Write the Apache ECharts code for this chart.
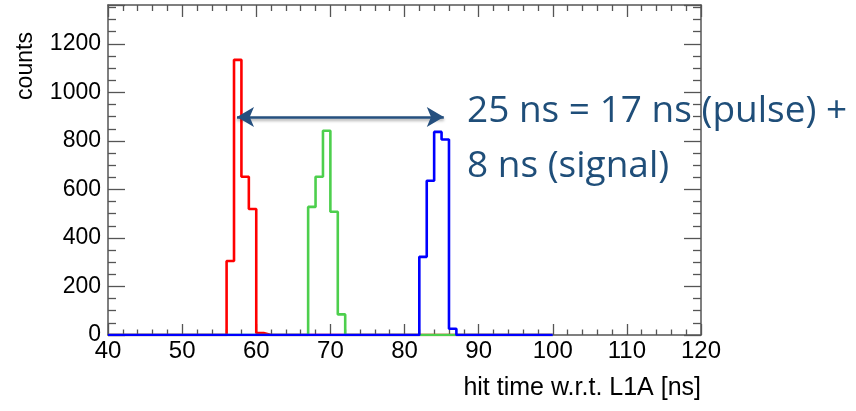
<!DOCTYPE html>
<html>
<head>
<meta charset="utf-8">
<script src="https://cdn.jsdelivr.net/npm/echarts@6/dist/echarts.min.js"></script>
<style>html,body{margin:0;padding:0;background:#fff;}#c{width:856px;height:411px;}</style>
</head>
<body>
<div id="c"></div>
<script>
// Histogram bins: 1 ns wide, lower edges 40..99
const binStart = 40;
const binEnd = 100;
const redCounts = [
  0,0,0,0,0,0,0,0,0,0,   // 40-49
  0,0,0,0,0,0,305,1134,652,519, // 50-59
  8,0,0,0,0,0,0,0,0,0,   // 60-69
  0,0,0,0,0,0,0,0,0,0,   // 70-79
  0,0,0,0,0,0,0,0,0,0,   // 80-89
  0,0,0,0,0,0,0,0,0,0    // 90-99
];
const greenCounts = [
  0,0,0,0,0,0,0,0,0,0,
  0,0,0,0,0,0,0,0,0,0,
  0,0,0,0,0,0,0,528,652,842,
  508,85,0,0,0,0,0,0,0,0,
  0,0,0,0,0,0,0,0,0,0,
  0,0,0,0,0,0,0,0,0,0
];
const blueCounts = [
  0,0,0,0,0,0,0,0,0,0,
  0,0,0,0,0,0,0,0,0,0,
  0,0,0,0,0,0,0,0,0,0,
  0,0,0,0,0,0,0,0,0,0,
  0,0,322,636,837,806,26,0,0,0,
  0,0,0,0,0,0,0,0,0,0
];
const xTicks = [40,50,60,70,80,90,100,110,120];
const yTicks = [0,200,400,600,800,1000,1200];
const arrowFrom = [57.4, 898];
const arrowTo = [85.3, 898];
const annotLine1 = '25 ns = 17 ns (pulse) +';
const annotLine2 = '8 ns (signal)';
const xTitle = 'hit time w.r.t. L1A [ns]';
const yTitle = 'counts';

function histPoints(counts){
  const pts = [];
  for (let i = 0; i < counts.length; i++) pts.push([binStart + i, counts[i]]);
  pts.push([binEnd, 0]);
  return pts;
}

const chart = echarts.init(document.getElementById('c'));
const frameColor = '#555';
const baseX = {
  type: 'value', min: xTicks[0], max: xTicks[xTicks.length-1], interval: 10,
  axisLine: {show: true, onZero: false, lineStyle: {color: frameColor, width: 1.5}},
  splitLine: {show: false},
  axisTick: {show: true, inside: true, length: 11, lineStyle: {color: frameColor, width: 1.3}},
  minorTick: {show: true, splitNumber: 5, length: 5.5, lineStyle: {color: frameColor, width: 1.3}},
};
const baseY = {
  type: 'value', min: 0, max: 1360, interval: 200,
  axisLine: {show: true, onZero: false, lineStyle: {color: frameColor, width: 1.5}},
  splitLine: {show: false},
  axisTick: {show: true, inside: true, length: 17, lineStyle: {color: frameColor, width: 1.3}},
  minorTick: {show: true, splitNumber: 4, length: 8, lineStyle: {color: frameColor, width: 1.3}},
};
const fontMain = '"Liberation Sans", Arial, Helvetica, sans-serif';
const annotColor = '#1F4E79';

chart.setOption({
  animation: false,
  backgroundColor: '#fff',
  grid: {left: 108, right: 155, top: 5, bottom: 76, containLabel: false},
  xAxis: [
    Object.assign({}, baseX, {position: 'bottom',
      axisLabel: {show: true, fontSize: 24, color: '#000', fontFamily: fontMain, margin: 4,
        formatter: v => xTicks.indexOf(v) >= 0 ? String(v) : ''}}),
    Object.assign({}, baseX, {position: 'top', axisLabel: {show: false},
      axisTick: {show: true, inside: true, length: 12, lineStyle: {color: frameColor, width: 1.3}},
      minorTick: {show: true, splitNumber: 5, length: 6, lineStyle: {color: frameColor, width: 1.3}}})
  ],
  yAxis: [
    Object.assign({}, baseY, {position: 'left',
      axisLabel: {show: true, fontSize: 23, color: '#000', fontFamily: fontMain, margin: 7,
        formatter: v => yTicks.indexOf(v) >= 0 ? String(v) : ''}}),
    Object.assign({}, baseY, {position: 'right', axisLabel: {show: false}})
  ],
  series: [
    {type: 'line', name: 'red', step: 'end', showSymbol: false, xAxisIndex: 0, yAxisIndex: 0,
     data: histPoints(redCounts), lineStyle: {color: '#FF0000', width: 2.6}, itemStyle: {color: '#FF0000'}, z: 3},
    {type: 'line', name: 'green', step: 'end', showSymbol: false, xAxisIndex: 0, yAxisIndex: 0,
     data: histPoints(greenCounts), lineStyle: {color: '#4DCF4D', width: 2.6}, itemStyle: {color: '#4DCF4D'}, z: 4},
    {type: 'line', name: 'blue', step: 'end', showSymbol: false, xAxisIndex: 0, yAxisIndex: 0,
     data: histPoints(blueCounts), lineStyle: {color: '#0000FF', width: 2.6}, itemStyle: {color: '#0000FF'}, z: 5,
     markLine: {
       silent: true, symbol: ['arrow', 'arrow'], symbolSize: [15, 17],
       label: {show: false},
       lineStyle: {color: '#25507F', width: 2.5, type: 'solid', shadowBlur: 3, shadowColor: 'rgba(0,0,0,0.35)', shadowOffsetY: 2},
       data: [[{coord: arrowFrom}, {coord: arrowTo}]]
     }}
  ],
  graphic: [
    {type: 'text', z: 100, left: 467, top: 93,
     style: {text: annotLine1, fill: annotColor, font: '37px "Open Sans", sans-serif'}},
    {type: 'text', z: 100, left: 467, top: 148,
     style: {text: annotLine2, fill: annotColor, font: '37px "Open Sans", sans-serif'}},
    {type: 'text', z: 100, x: 701, y: 388,
     style: {text: xTitle, fill: '#000', font: '25px "Liberation Sans", Arial, sans-serif', align: 'right', verticalAlign: 'middle'}},
    {type: 'text', z: 100, x: 26, y: 66, rotation: Math.PI/2,
     style: {text: yTitle, fill: '#000', font: '23px "Liberation Sans", Arial, sans-serif', align: 'center', verticalAlign: 'middle'}}
  ]
});
</script>
</body>
</html>
